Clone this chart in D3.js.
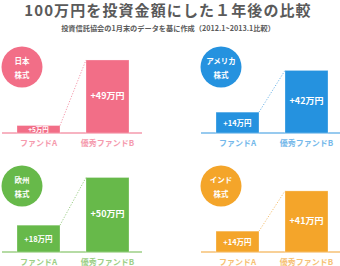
<!DOCTYPE html>
<html lang="ja">
<head>
<meta charset="UTF-8" />
<title>100万円を投資金額にした１年後の比較</title>
<style>
  body { margin:0; background:#fff; font-family:"Noto Sans CJK JP", sans-serif; }
  svg { display:block; }
</style>
</head>
<body>
<svg id="chart" width="340" height="266"></svg>
<script src="https://d3js.org/d3.v7.min.js"></script>
<script>
// data
const funds    = ["ファンドA", "優秀ファンドB"];
const markets  = [["日本", "株式"], ["アメリカ", "株式"], ["欧州", "株式"], ["インド", "株式"]];
const fundA    = [5, 14, 18, 14];
const fundB    = [49, 42, 50, 41];
const colors   = ["#f26e87", "#2592df", "#67b94a", "#f4a52a"];
const lights   = ["#f59aad", "#74b8ea", "#9ccf86", "#f6c174"];

const svg = d3.select("#chart");

// titles
svg.append("text")
  .attr("x", 168).attr("y", 9).attr("text-anchor", "middle").attr("dominant-baseline", "central")
  .style("font-size", "15px").style("font-weight", "bold").style("letter-spacing", "1.1px")
  .style("fill", "#5a5a5a")
  .text("100万円を投資金額にした１年後の比較");
svg.append("text")
  .attr("x", 168).attr("y", 28).attr("text-anchor", "middle").attr("dominant-baseline", "central")
  .style("font-size", "7.2px").style("font-weight", "bold").style("fill", "#5a5a5a")
  .text("投資信託協会の1月末のデータを基に作成（2012.1~2013.1比較）");

const x = d3.scaleBand().domain(funds).range([17, 129]).paddingInner(0.377);
const h = d3.scaleLinear().domain([0, 50]).range([0, 74.5]);

const origins = [[0, 133], [199, 133], [0, 252], [199, 252]];

markets.forEach((m, i) => {
  const [ox, base] = origins[i];
  const g = svg.append("g").attr("transform", `translate(${ox},${base})`);
  const col = colors[i], lt = lights[i];
  const vals = [fundA[i], fundB[i]];

  // baseline
  g.append("line").attr("x1", 2).attr("x2", 142).attr("y1", 0).attr("y2", 0)
    .attr("stroke", lt).attr("stroke-width", 1.5);

  // bars
  g.selectAll("rect.bar").data(funds).join("rect").attr("class", "bar")
    .attr("x", d => x(d)).attr("width", x.bandwidth())
    .attr("y", (d, j) => -h(vals[j])).attr("height", (d, j) => h(vals[j]))
    .attr("fill", col).attr("stroke", "#fff").attr("stroke-opacity", 0.35).attr("stroke-width", 0.8);

  // dotted connector
  g.append("line")
    .attr("x1", x(funds[0]) + x.bandwidth()).attr("y1", -h(vals[0]))
    .attr("x2", x(funds[1])).attr("y2", -h(vals[1]))
    .attr("stroke", lt).attr("stroke-width", 1).attr("stroke-dasharray", "1.2,1.6");

  // value labels
  g.selectAll("text.val").data(funds).join("text").attr("class", "val")
    .attr("x", d => x(d) + x.bandwidth() / 2)
    .attr("y", (d, j) => -h(vals[j]) / 2 - (j ? 1 : 0))
    .attr("text-anchor", "middle").attr("dominant-baseline", "central")
    .style("font-size", (d, j) => j ? "9px" : (vals[j] < 8 ? "6.5px" : "7.5px"))
    .style("font-weight", "bold").style("fill", "#fff")
    .text((d, j) => `+${vals[j]}万円`);

  // category labels
  g.selectAll("text.cat").data(funds).join("text").attr("class", "cat")
    .attr("x", d => x(d) + x.bandwidth() / 2).attr("y", 9)
    .attr("text-anchor", "middle").attr("dominant-baseline", "central")
    .style("font-size", "8px").style("font-weight", "bold").style("fill", lt)
    .text(d => d);

  // market badge
  const cy = -66;
  g.append("circle").attr("cx", 22).attr("cy", cy).attr("r", 20.5).attr("fill", col);
  g.selectAll("text.mk").data(m).join("text").attr("class", "mk")
    .attr("x", 22).attr("y", (d, k) => cy - 7 + k * 14)
    .attr("text-anchor", "middle").attr("dominant-baseline", "central")
    .style("font-size", "7.5px").style("font-weight", "bold").style("fill", "#fff")
    .text(d => d);
});
</script>
</body>
</html>
